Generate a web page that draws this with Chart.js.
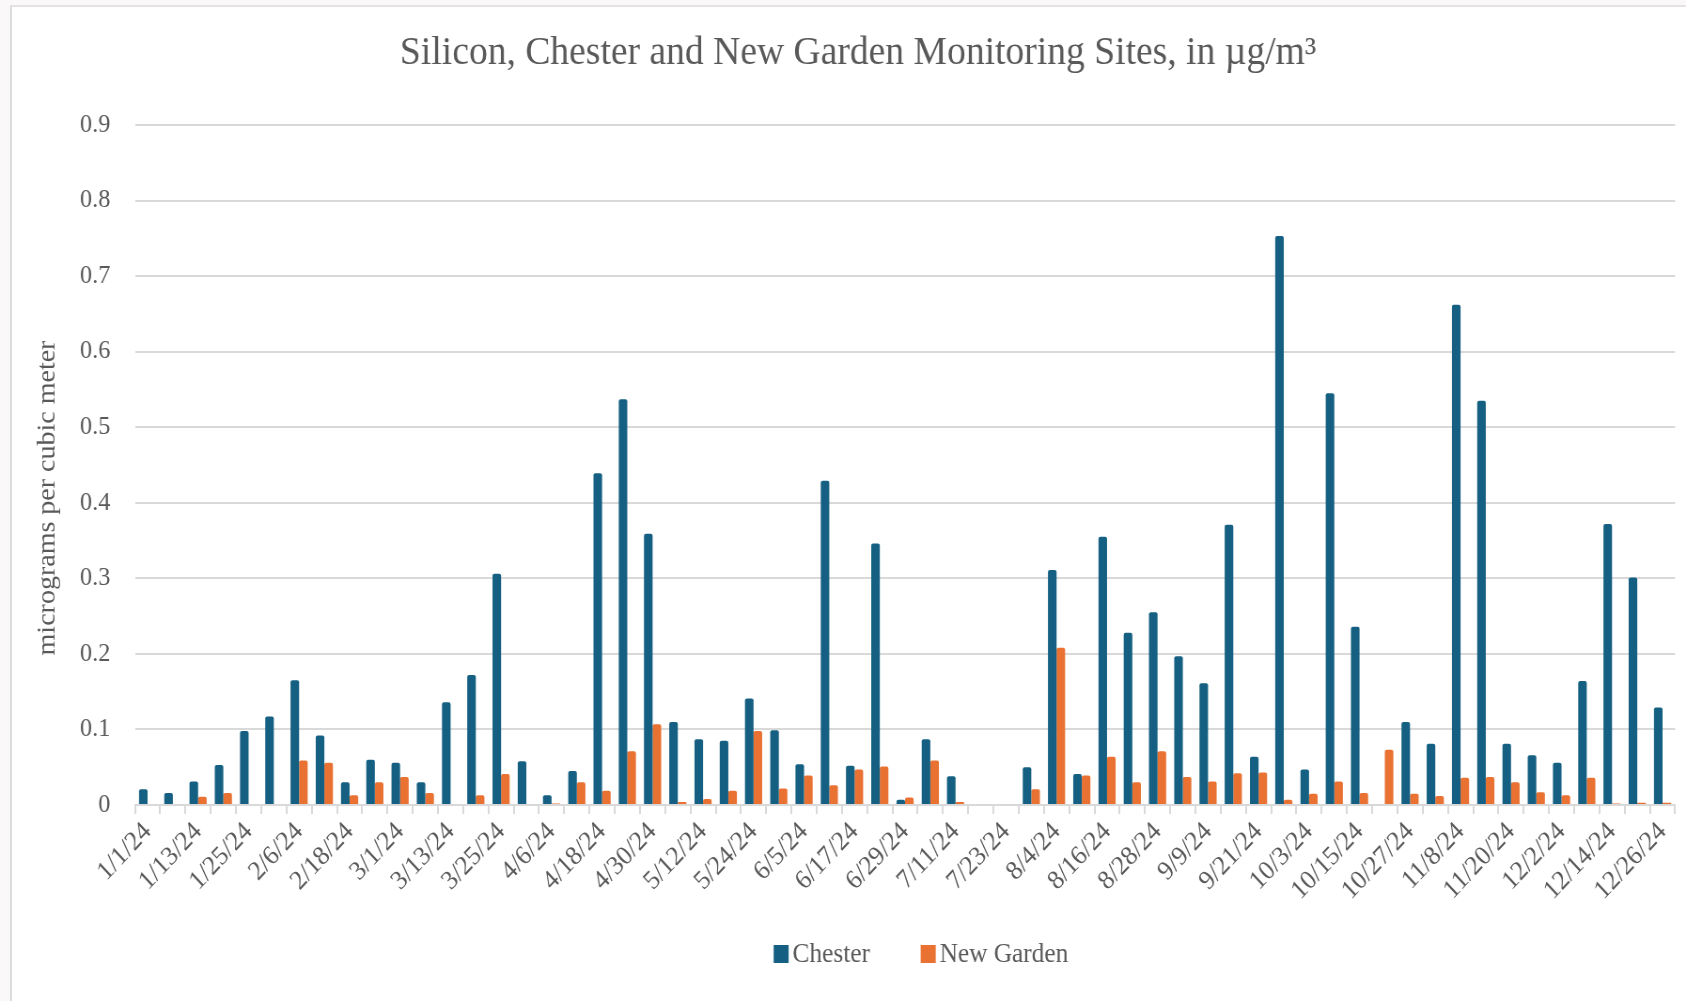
<!DOCTYPE html>
<html>
<head>
<meta charset="utf-8">
<script src="https://cdn.jsdelivr.net/npm/chart.js@4.4.1/dist/chart.umd.min.js"></script>
<style>
  html, body { margin: 0; padding: 0; background: #faf8f8; overflow: hidden; }
  #frame {
    position: absolute; left: 10px; top: 5px; width: 1676px; height: 996px;
    background: #fff; border-left: 2px solid #dcdcdc; border-top: 2px solid #e4e2e2;
  }
  /* the source picture is slightly squeezed sideways, so the canvas is drawn wider and shown at 1686px */
  #chart { position: absolute; left: 0; top: 0; width: 1686px; height: 1001px; }
</style>
</head>
<body>
<div id="frame"></div>
<canvas id="chart" width="1794" height="1001" style="width:1686px;height:1001px"></canvas>
<script>
const dates = [
  '1/1/24','1/7/24','1/13/24','1/19/24','1/25/24','1/31/24','2/6/24','2/12/24','2/18/24','2/24/24',
  '3/1/24','3/7/24','3/13/24','3/19/24','3/25/24','3/31/24','4/6/24','4/12/24','4/18/24','4/24/24',
  '4/30/24','5/6/24','5/12/24','5/18/24','5/24/24','5/30/24','6/5/24','6/11/24','6/17/24','6/23/24',
  '6/29/24','7/5/24','7/11/24','7/17/24','7/23/24','7/29/24','8/4/24','8/10/24','8/16/24','8/22/24',
  '8/28/24','9/3/24','9/9/24','9/15/24','9/21/24','9/27/24','10/3/24','10/9/24','10/15/24','10/21/24',
  '10/27/24','11/2/24','11/8/24','11/14/24','11/20/24','11/26/24','12/2/24','12/8/24','12/14/24','12/20/24',
  '12/26/24'
];

const chester = [
  0.021, 0.016, 0.031, 0.053, 0.098, 0.117, 0.165, 0.092, 0.030, 0.060,
  0.056, 0.030, 0.136, 0.172, 0.306, 0.058, 0.013, 0.045, 0.439, 0.537,
  0.359, 0.110, 0.087, 0.085, 0.141, 0.099, 0.054, 0.429, 0.052, 0.346,
  0.007, 0.087, 0.038, null, null, 0.050, 0.311, 0.041, 0.355, 0.228,
  0.255, 0.197, 0.161, 0.371, 0.064, 0.753, 0.047, 0.545, 0.236, null,
  0.110, 0.081, 0.662, 0.535, 0.081, 0.066, 0.056, 0.164, 0.372, 0.301,
  0.129
];

const newGarden = [
  null, null, 0.011, 0.016, null, null, 0.059, 0.056, 0.013, 0.030,
  0.037, 0.016, null, 0.013, 0.041, null, 0.002, 0.030, 0.019, 0.071,
  0.107, 0.004, 0.008, 0.019, 0.098, 0.022, 0.039, 0.026, 0.047, 0.051,
  0.010, 0.059, 0.004, null, null, 0.021, 0.208, 0.039, 0.064, 0.030,
  0.071, 0.037, 0.031, 0.042, 0.043, 0.007, 0.015, 0.031, 0.016, 0.073,
  0.015, 0.012, 0.036, 0.037, 0.030, 0.017, 0.013, 0.036, 0.002, 0.003,
  0.003
];

const serif = "'Liberation Serif', 'DejaVu Serif', serif";
const grey = '#595959';

// y axis title, drawn a bit below the middle like the original
const yTitlePlugin = {
  id: 'yTitle',
  afterDraw(chart) {
    const { ctx, chartArea } = chart;
    ctx.save();
    ctx.translate(51, (chartArea.top + chartArea.bottom) / 2 + 33);
    ctx.rotate(-Math.PI / 2);
    ctx.font = `28px ${serif}`;
    ctx.fillStyle = grey;
    ctx.textAlign = 'center';
    ctx.textBaseline = 'middle';
    ctx.fillText('micrograms per cubic meter', 0, 0);
    ctx.restore();
  }
};

// Excel style legend: small box right next to the text
const legendPlugin = {
  id: 'excelLegend',
  afterDraw(chart) {
    const { ctx } = chart;
    const sets = chart.data.datasets;
    const box = 16, gap = 4, itemGap = 54, cy = 954;
    ctx.save();
    ctx.font = `27px ${serif}`;
    ctx.textBaseline = 'middle';
    const widths = sets.map(d => box + gap + ctx.measureText(d.label).width);
    const total = widths.reduce((a, b) => a + b, 0) + itemGap * (sets.length - 1);
    let x = 980 - total / 2;
    sets.forEach((d, i) => {
      ctx.fillStyle = d.backgroundColor;
      ctx.fillRect(x, cy - 9, box, 18);
      ctx.fillStyle = grey;
      ctx.fillText(d.label, x + box + gap, cy + 1);
      x += widths[i] + itemGap;
    });
    ctx.restore();
  }
};

new Chart(document.getElementById('chart'), {
  type: 'bar',
  data: {
    labels: dates,
    datasets: [
      { label: 'Chester', data: chester, backgroundColor: '#156082' },
      { label: 'New Garden', data: newGarden, backgroundColor: '#E97132' }
    ]
  },
  plugins: [yTitlePlugin, legendPlugin],
  options: {
    responsive: false,
    animation: false,
    devicePixelRatio: 1,
    layout: { padding: { left: 42, right: 10, top: 0, bottom: 96 } },
    datasets: {
      bar: { categoryPercentage: 0.68, barPercentage: 1, borderRadius: 2, borderSkipped: 'bottom' }
    },
    plugins: {
      title: {
        display: true,
        text: 'Silicon, Chester and New Garden Monitoring Sites, in µg/m³',
        color: grey,
        font: { family: serif, size: 40, weight: 'normal' },
        padding: { top: 29, bottom: 48 }
      },
      legend: { display: false },
      tooltip: { enabled: false }
    },
    scales: {
      x: {
        offset: true,
        grid: { display: true, offset: true, drawOnChartArea: false, drawTicks: true, tickLength: 9, color: '#d9d9d9', lineWidth: 2 },
        border: { color: '#d9d9d9', width: 2 },
        ticks: {
          autoSkip: false,
          maxRotation: 45,
          minRotation: 45,
          color: grey,
          padding: 2,
          font: { family: serif, size: 27 },
          callback: function (v, i) { return i % 2 === 0 ? this.getLabelForValue(v) : ''; }
        },
        afterFit: s => { s.height = 100; }
      },
      y: {
        min: 0,
        max: 0.9,
        ticks: { stepSize: 0.1, color: grey, padding: 26, font: { family: serif, size: 26 } },
        grid: { color: '#d9d9d9', lineWidth: 2, drawTicks: false },
        border: { display: false },
        afterFit: s => { s.width = 101.6; }
      }
    }
  }
});
</script>
</body>
</html>
